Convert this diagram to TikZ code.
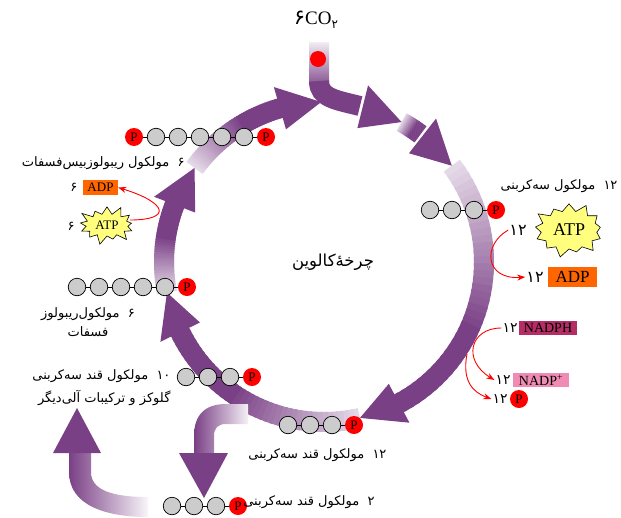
\documentclass[tikz,border=0pt]{standalone}
\usepackage{fontspec}
\setmainfont{Liberation Serif}
\newfontfamily\fa[Script=Arabic]{DejaVu Sans}
\TeXXeTstate=1
\usetikzlibrary{arrows.meta, positioning, calc, shapes.symbols}
\definecolor{cyc}{RGB}{122,64,134}
\definecolor{adporange}{RGB}{255,102,0}
\definecolor{nadphred}{RGB}{180,45,100}
\definecolor{nadppink}{RGB}{240,140,180}
\definecolor{atpyellow}{RGB}{255,255,125}
\definecolor{sugargray}{RGB}{204,204,204}
\tikzset{
  ring/.style={line width=20pt},
  carb/.style={circle, draw=black, fill=sugargray, minimum size=17.5pt, inner sep=0pt, line width=0.7pt},
  phos/.style={circle, fill=red, minimum size=18pt, inner sep=0pt, font=\fontsize{13}{13}\selectfont},
  bond/.style={line width=0.7pt},
  redarr/.style={red, line width=0.9pt, -{Stealth[length=8pt,width=6pt]}},
  atpstar/.style={starburst, starburst points=13, starburst point height=10pt, draw=black, line width=0.6pt, fill=atpyellow, inner sep=0pt},
  fatext/.style={font=\fa\fontsize{13}{16}\selectfont},
  fanum/.style={font=\fa\fontsize{16}{16}\selectfont, inner sep=1pt},
  tagbox/.style={inner sep=0pt, font=\fontsize{14}{14}\selectfont}
}

\begin{document}
\begin{tikzpicture}[x=1pt,y=-1pt]
  \path[use as bounding box, fill=white] (0,0) rectangle (621,517);
  \coordinate (cc) at (324,262);
  % the cycle
  \foreach \s/\e in {-144/-106,-61/-53,-37/63,77/154,169/201}{
    \foreach \i in {0,...,39}{
      \pgfmathsetmacro{\angA}{\s+(\e-(\s))*\i/40}
      \pgfmathsetmacro{\angB}{\s+(\e-(\s))*(\i+1.5)/40}
      \pgfmathtruncatemacro{\pp}{min(100,20+80*\i/24)}
      \draw[ring, draw=cyc!\pp] ($(cc)+(\angA:160)$) arc[start angle=\angA, end angle=\angB, radius=160];
    }
  }
  \foreach \t in {-91,-61,-37,77,169,216}
    \fill[cyc] ($(cc)+({\t-15}:138)$) -- ($(cc)+({\t-15}:182)$) -- ($(cc)+(\t:160)$) -- cycle;
  % CO2 in
  \shade[top color=cyc!10, bottom color=cyc!85] (309,42) rectangle (329,82);
  \draw[ring, cyc] (319,81) .. controls (319,98) and (336,100) .. (360,106);
  \node[circle, fill=red, minimum size=16pt, inner sep=0pt] (co2dot) at (318,59) {};
  \node[font=\fontsize{19}{19}\selectfont] (co2) at (316,20) {{\fa\fontsize{21}{21}\selectfont ۶}CO\raisebox{-4pt}{\fa\fontsize{12}{12}\selectfont ۲}};
  % branch out
  \shade[left color=cyc, middle color=cyc!70, right color=cyc!8] (248,404) -- (226,404) .. controls (205,404) and (194,415) .. (194,436) -- (194,455) -- (214,455) -- (214,436) .. controls (214,428) and (218,424) .. (226,424) -- (248,424) -- cycle;
  \fill[cyc] (179,453) -- (228,453) -- (204,498) -- cycle;
  \shade[left color=cyc, middle color=cyc!75, right color=cyc!5] (69,453) -- (69,472) .. controls (69,505) and (105,517) .. (148,517) -- (148,497) .. controls (112,497) and (91,490) .. (91,472) -- (91,453) -- cycle;
  \fill[cyc] (53,453) -- (101,453) -- (77,408) -- cycle;
  % molecules
  \node[phos] (rb0) at (134,137) {P};
  \foreach \i in {1,...,5} \node[carb] (rb\i) at ({134+22*\i},137) {};
  \node[phos] (rb6) at (266,137) {P};
  \draw[bond] (rb0) -- (rb1) -- (rb2) -- (rb3) -- (rb4) -- (rb5) -- (rb6);
  \foreach \i in {1,...,5} \node[carb] (ru\i) at ({55+22*\i},287) {};
  \node[phos] (ru6) at (187,287) {P};
  \draw[bond] (ru1) -- (ru2) -- (ru3) -- (ru4) -- (ru5) -- (ru6);
  \foreach \m/\x/\y in {gr/430/210, gt/186/377, gb/288/425, gs/172/506}{
    \foreach \i in {1,2,3} \node[carb] (\m\i) at ({\x+22*(\i-1)},\y) {};
    \node[phos] (\m4) at ({\x+66},\y) {P};
    \draw[bond] (\m1) -- (\m2) -- (\m3) -- (\m4);
  }
  % labels
  \node[fatext, font=\fa\fontsize{16.5}{19}\selectfont] (calvin) at (333,262) {\beginR چرخهٔ‌کالوین\endR};
  \node[fatext, anchor=east] (rbtxt) at (188,163) {\beginR ۶~~مولکول ریبولوزبیس‌فسفات\endR};
  \node[tagbox, fill=adporange, minimum width=35pt, minimum height=15pt, font=\fontsize{13}{13}\selectfont] (adpL) at (100.5,187.5) {ADP};
  \node[fatext, left=2pt of adpL] (adpLn) {۶};
  \node[atpstar, minimum width=62pt, minimum height=42pt, font=\fontsize{13}{13}\selectfont] (atpL) at (107,225) {ATP};
  \node[fatext] (atpLn) at (71,226) {۶};
  \node[fatext, align=center, font=\fa\fontsize{13}{19}\selectfont] (rutxt) at (88,322) {\beginR ۶~~مولکول‌ریبولوز\endR\\\beginR فسفات\endR};
  \node[fatext, align=right, anchor=east, font=\fa\fontsize{13}{23}\selectfont] (gttxt) at (174,388) {\beginR\beginL ۱۰\endL{}~~مولکول قند سه‌کربنی\endR\\\beginR گلوکز و ترکیبات آلی‌دیگر\endR};
  \node[fatext, anchor=east] (gbtxt) at (390,455) {\beginR\beginL ۱۲\endL{}~~مولکول قند سه‌کربنی\endR};
  \node[fatext, anchor=east] (gstxt) at (378,502) {\beginR ۲~~مولکول قند سه‌کربنی\endR};
  \node[fatext, anchor=east] (grtxt) at (621,186) {\beginR\beginL ۱۲\endL{}~~مولکول سه‌کربنی\endR};
  \node[atpstar, minimum width=76pt, minimum height=58pt, font=\fontsize{18}{18}\selectfont] (atpR) at (569,230) {ATP};
  \node[fanum] (atpRn) at (518,230) {۱۲};
  \node[tagbox, fill=adporange, minimum width=49pt, minimum height=20pt, font=\fontsize{17}{17}\selectfont] (adpR) at (572.5,277) {ADP};
  \node[fanum, left=3pt of adpR] (adpRn) {۱۲};
  \node[tagbox, fill=nadphred, minimum width=58pt, minimum height=14pt] (nadph) at (548,328) {NADPH};
  \node[fanum, font=\fa\fontsize{14}{14}\selectfont, left=0pt of nadph] (nadphn) {۱۲};
  \node[tagbox, fill=nadppink, minimum width=56pt, minimum height=14pt] (nadp) at (541,380) {NADP\textsuperscript{+}};
  \node[fanum, font=\fa\fontsize{14}{14}\selectfont, left=1pt of nadp] (nadpn) {۱۲};
  \node[phos] (pfree) at (519,399) {P};
  \node[fanum, font=\fa\fontsize{14}{14}\selectfont, left=1pt of pfree] (pfreen) {۱۲};
  % red arrows
  \coordinate (nadpstart) at (467,354);
  \draw[redarr] ([yshift=5pt]atpL.east) .. controls (172,220) and (168,203) .. (adpL.east);
  \draw[redarr] (atpRn.west) .. controls (482,245) and (485,280) .. (adpRn.west);
  \draw[redarr] (nadphn.west) .. controls (470,328) and (462,360) .. (nadpn.west);
  \draw[redarr] (nadpstart) .. controls (462,380) and (472,392) .. (pfreen.west);
\end{tikzpicture}
\end{document}
